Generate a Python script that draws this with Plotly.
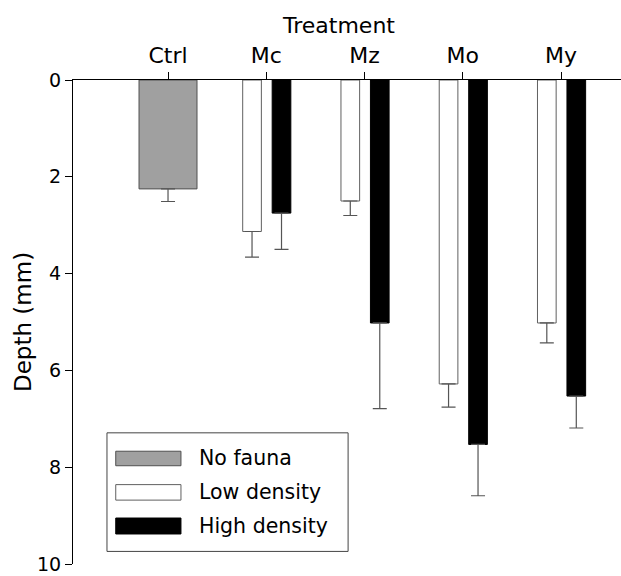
import plotly.graph_objects as go

categories = ["Ctrl", "Mc", "Mz", "Mo", "My"]
ctrl_value = [2.25]
ctrl_err = [0.26]
low_cats = ["Mc", "Mz", "Mo", "My"]
low_values = [3.13, 2.50, 6.28, 5.02]
low_err = [0.53, 0.30, 0.48, 0.41]
high_cats = ["Mc", "Mz", "Mo", "My"]
high_values = [2.75, 5.02, 7.53, 6.53]
high_err = [0.75, 1.77, 1.06, 0.66]
series_names = ["No fauna", "Low density", "High density"]
y_ticks = [0, 2, 4, 6, 8, 10]

pos = {c: i for i, c in enumerate(categories)}
FONT = "DejaVu Sans, Liberation Sans, Arial, sans-serif"
ERRC = "#555555"

fig = go.Figure()
fig.add_trace(go.Bar(
    x=[pos["Ctrl"]], y=ctrl_value, width=0.59, offset=-0.295,
    marker=dict(color="#a0a0a0", line=dict(color="#505050", width=1)),
    error_y=dict(type="data", symmetric=False, array=ctrl_err, arrayminus=[0],
                 color=ERRC, thickness=1.2, width=7),
    name=series_names[0], showlegend=False))
fig.add_trace(go.Bar(
    x=[pos[c] for c in low_cats], y=low_values, width=0.19, offset=-0.24,
    marker=dict(color="white", line=dict(color="#606060", width=1)),
    error_y=dict(type="data", symmetric=False, array=low_err, arrayminus=[0]*len(low_err),
                 color=ERRC, thickness=1.2, width=7),
    name=series_names[1], showlegend=False))
fig.add_trace(go.Bar(
    x=[pos[c] for c in high_cats], y=high_values, width=0.19, offset=0.06,
    marker=dict(color="black", line=dict(color="black", width=1)),
    error_y=dict(type="data", symmetric=False, array=high_err, arrayminus=[0]*len(high_err),
                 color=ERRC, thickness=1.2, width=7),
    name=series_names[2], showlegend=False))

# custom legend (box + swatches + labels) in paper coordinates
legend_box = dict(x0=0.062, x1=0.502, y0=0.026, y1=0.271)
sw_x = (0.078, 0.197)
sw_y = [(0.203, 0.233), (0.132, 0.164), (0.062, 0.095)]
sw_style = [("#a0a0a0", "#505050"), ("white", "#606060"), ("black", "black")]
shapes = [dict(type="rect", xref="paper", yref="paper", **legend_box,
               line=dict(color="#444444", width=1), fillcolor="white", layer="above")]
annotations = []
for (y0, y1), (fc, lc), name in zip(sw_y, sw_style, series_names):
    shapes.append(dict(type="rect", xref="paper", yref="paper", x0=sw_x[0], x1=sw_x[1],
                       y0=y0, y1=y1, fillcolor=fc, line=dict(color=lc, width=1), layer="above"))
    annotations.append(dict(xref="paper", yref="paper", x=0.226, y=(y0 + y1) / 2,
                            text=name, showarrow=False, xanchor="left", yanchor="middle",
                            font=dict(size=20.5, color="black", family=FONT)))
annotations.append(dict(xref="paper", yref="paper", x=0.484, y=1, yshift=55,
                        text="Treatment", showarrow=False, xanchor="center", yanchor="middle",
                        font=dict(size=22, color="black", family=FONT)))
annotations.append(dict(xref="paper", yref="paper", x=0, xshift=-50, y=0.5,
                        text="Depth (mm)", showarrow=False, textangle=-90,
                        xanchor="center", yanchor="middle",
                        font=dict(size=23, color="black", family=FONT)))

fig.update_layout(
    width=621, height=576,
    margin=dict(l=73, r=0, t=80, b=12),
    paper_bgcolor="white", plot_bgcolor="white",
    barmode="overlay",
    font=dict(family=FONT, size=22, color="black"),
    shapes=shapes, annotations=annotations,
    xaxis=dict(side="top", range=[-0.967, 4.61], tickmode="array",
               tickvals=list(range(len(categories))), ticktext=categories,
               showline=True, linecolor="black", linewidth=1,
               ticks="outside", ticklen=7, tickcolor="black",
               showgrid=False, zeroline=False, tickfont=dict(size=22),
               automargin=False),
    yaxis=dict(range=[10, 0], tickmode="array", tickvals=y_ticks,
               showline=True, linecolor="black", linewidth=1,
               ticks="outside", ticklen=7, tickcolor="black",
               showgrid=False, zeroline=False, tickfont=dict(size=19),
               ticklabeloverflow="allow", automargin=False),
)

fig.write_html("out.html", post_script="document.body.style.margin='0';",
               config={"displayModeBar": False})
